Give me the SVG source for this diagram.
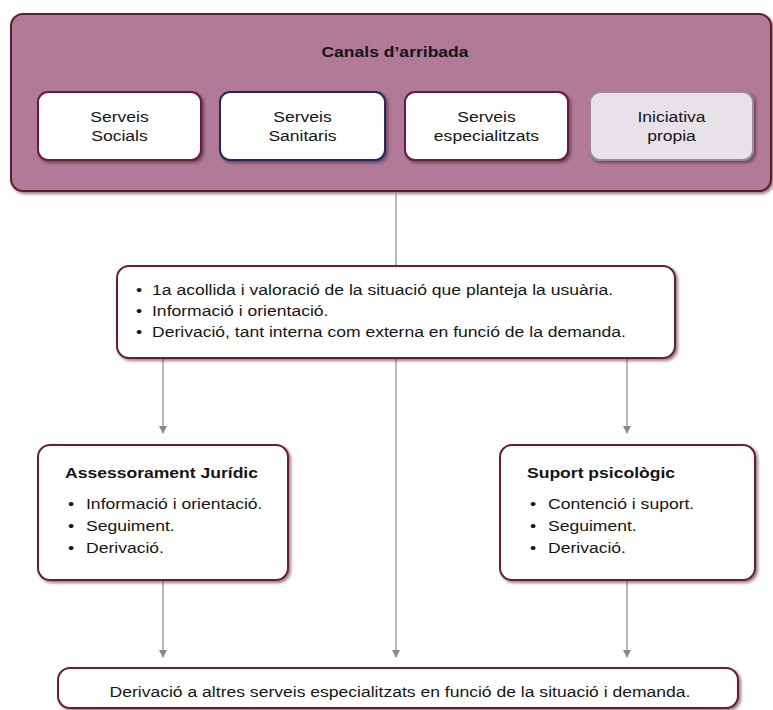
<svg xmlns="http://www.w3.org/2000/svg" width="773" height="710" viewBox="0 0 773 710">
<defs>
<filter id="sh" x="-10%" y="-10%" width="125%" height="135%">
<feDropShadow dx="2" dy="2" stdDeviation="1.5" flood-color="#3a1020" flood-opacity="0.55"/>
</filter>
<marker id="ah" markerWidth="8" markerHeight="10" refX="7" refY="4" orient="auto" markerUnits="userSpaceOnUse">
<path d="M0,0 L8,4 L0,8 z" fill="#8a8a8a"/>
</marker>
</defs>
<style>
text{font-family:"Liberation Sans",Arial,Helvetica,sans-serif;font-size:15px;fill:#151515}
.b{font-weight:bold}
.m{text-anchor:middle}
.box{fill:#ffffff;stroke:#6a1d33;stroke-width:2}
.conn line{stroke:#8a8a8a;stroke-width:1.2;fill:none}
</style>

<g id="canals">
<rect x="11" y="14" width="760" height="177" rx="12" fill="#b07a98" stroke="#5e1a2e" stroke-width="2" filter="url(#sh)"/>
<text class="b m" transform="translate(395,57) scale(1.17,1)">Canals d’arribada</text>
</g>

<g id="socials">
<rect class="box" x="38" y="92" width="163" height="68" rx="10" filter="url(#sh)"/>
<text class="m" transform="translate(119.5,122) scale(1.17,1)">Serveis</text>
<text class="m" transform="translate(119.5,141) scale(1.17,1)">Socials</text>
</g>
<g id="sanitaris">
<rect class="box" x="220" y="92" width="165" height="68" rx="10" style="stroke:#1f2a66" filter="url(#sh)"/>
<text class="m" transform="translate(302.5,122) scale(1.17,1)">Serveis</text>
<text class="m" transform="translate(302.5,141) scale(1.17,1)">Sanitaris</text>
</g>
<g id="especialitzats">
<rect class="box" x="405" y="92" width="163" height="68" rx="10" filter="url(#sh)"/>
<text class="m" transform="translate(486.5,122) scale(1.17,1)">Serveis</text>
<text class="m" transform="translate(486.5,141) scale(1.17,1)">especialitzats</text>
</g>
<g id="iniciativa">
<rect class="box" x="590" y="92" width="163" height="68" rx="10" style="fill:#e7e1e8;stroke:#9a8a98" filter="url(#sh)"/>
<text class="m" transform="translate(671.5,122) scale(1.17,1)">Iniciativa</text>
<text class="m" transform="translate(671.5,141) scale(1.17,1)">propia</text>
</g>

<g class="conn" id="connectors">
<line x1="396" y1="192" x2="396" y2="266"/>
<line x1="396" y1="358" x2="396" y2="657" marker-end="url(#ah)"/>
<line x1="163" y1="358" x2="163" y2="433" marker-end="url(#ah)"/>
<line x1="627" y1="358" x2="627" y2="433" marker-end="url(#ah)"/>
<line x1="163" y1="580" x2="163" y2="657" marker-end="url(#ah)"/>
<line x1="627" y1="580" x2="627" y2="657" marker-end="url(#ah)"/>
</g>

<g id="acollida">
<rect class="box" x="117" y="266" width="558" height="92" rx="12" filter="url(#sh)"/>
<text transform="translate(136,295) scale(1.17,1)">•</text>
<text transform="translate(152,295) scale(1.17,1)">1a acollida i valoració de la situació que planteja la usuària.</text>
<text transform="translate(136,316) scale(1.17,1)">•</text>
<text transform="translate(152,316) scale(1.17,1)">Informació i orientació.</text>
<text transform="translate(136,337) scale(1.17,1)">•</text>
<text transform="translate(152,337) scale(1.17,1)">Derivació, tant interna com externa en funció de la demanda.</text>
</g>

<g id="juridic">
<rect class="box" x="38" y="445" width="250" height="135" rx="12" filter="url(#sh)"/>
<text class="b" transform="translate(65,478) scale(1.17,1)">Assessorament Jurídic</text>
<text transform="translate(68,509) scale(1.17,1)">•</text>
<text transform="translate(86,509) scale(1.17,1)">Informació i orientació.</text>
<text transform="translate(68,531) scale(1.17,1)">•</text>
<text transform="translate(86,531) scale(1.17,1)">Seguiment.</text>
<text transform="translate(68,553) scale(1.17,1)">•</text>
<text transform="translate(86,553) scale(1.17,1)">Derivació.</text>
</g>

<g id="psicologic">
<rect class="box" x="500" y="445" width="255" height="135" rx="12" filter="url(#sh)"/>
<text class="b" transform="translate(527,478) scale(1.17,1)">Suport psicològic</text>
<text transform="translate(530,509) scale(1.17,1)">•</text>
<text transform="translate(548,509) scale(1.17,1)">Contenció i suport.</text>
<text transform="translate(530,531) scale(1.17,1)">•</text>
<text transform="translate(548,531) scale(1.17,1)">Seguiment.</text>
<text transform="translate(530,553) scale(1.17,1)">•</text>
<text transform="translate(548,553) scale(1.17,1)">Derivació.</text>
</g>

<g id="derivacio">
<rect class="box" x="58" y="668" width="680" height="40" rx="12" filter="url(#sh)"/>
<text class="m" transform="translate(400,697) scale(1.17,1)">Derivació a altres serveis especialitzats en funció de la situació i demanda.</text>
</g>
</svg>
